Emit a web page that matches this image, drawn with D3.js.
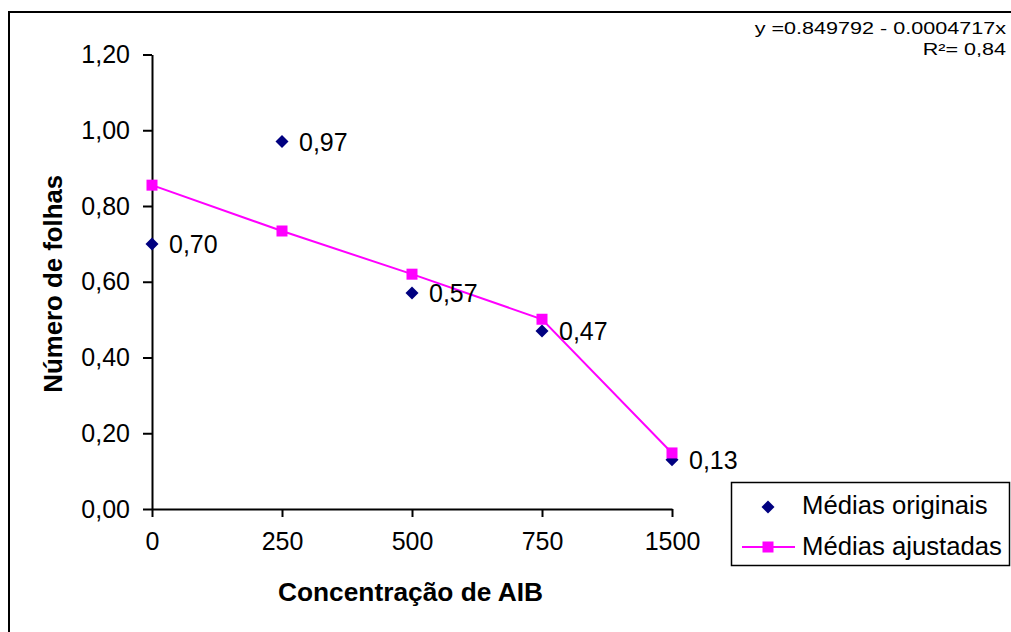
<!DOCTYPE html>
<html>
<head>
<meta charset="utf-8">
<script src="https://cdn.jsdelivr.net/npm/d3@7"></script>
<style>
  html, body { margin: 0; padding: 0; background: #fff; }
  svg { display: block; font-family: "Liberation Sans", Arial, sans-serif; }
</style>
</head>
<body>
<svg id="chart" width="1011" height="632"></svg>
<script>
// ---- data ----
const categories = ["0", "250", "500", "750", "1500"];
const originalMeans = [0.70, 0.97, 0.57, 0.47, 0.13];
const originalLabels = ["0,70", "0,97", "0,57", "0,47", "0,13"];
const adjustedMeans = [0.855, 0.734, 0.620, 0.501, 0.148];
const yTicks = [0, 0.2, 0.4, 0.6, 0.8, 1.0, 1.2];
const seriesNames = ["Médias originais", "Médias ajustadas"];
const equationLines = ["y =0.849792 - 0.0004717x", "R²= 0,84"];
const xTitle = "Concentração de AIB";
const yTitle = "Número de folhas";

// ---- layout ----
const svg = d3.select("#chart");
const NAVY = "#000080", MAGENTA = "#FF00FF";
const plot = { left: 152, right: 672, top: 54.5, bottom: 509 };

const x = d3.scalePoint().domain(categories).range([plot.left, plot.right]).padding(0);
const y = d3.scaleLinear().domain([0, 1.2]).range([plot.bottom, plot.top]);
const fmt = v => d3.format(".2f")(v).replace(".", ",");

// outer chart border (extends past the window on right and bottom)
svg.append("rect")
  .attr("x", 9).attr("y", 12).attr("width", 1100).attr("height", 700)
  .attr("fill", "none").attr("stroke", "#000").attr("stroke-width", 2);

// y axis
const yAxis = svg.append("g").attr("transform", `translate(${plot.left},0)`)
  .call(d3.axisLeft(y).tickValues(yTicks).tickFormat(fmt).tickSizeOuter(0).tickSizeInner(9).tickPadding(13));
// x axis
const xAxis = svg.append("g").attr("transform", `translate(0,${plot.bottom})`)
  .call(d3.axisBottom(x).tickSizeOuter(0).tickSizeInner(8).tickPadding(15));

[yAxis, xAxis].forEach(g => {
  g.select(".domain").attr("stroke", "#000").attr("stroke-width", 2);
  g.selectAll(".tick line").attr("stroke", "#000").attr("stroke-width", 2);
  g.selectAll(".tick text").attr("fill", "#000").style("font-size", "25px")
    .style("font-family", "'Liberation Sans', Arial, sans-serif");
});
xAxis.selectAll(".tick text").attr("dy", "0.71em");

// axis titles
svg.append("text")
  .attr("x", (plot.left + plot.right) / 2 - 1.5).attr("y", 600.5)
  .attr("text-anchor", "middle").style("font-size", "26.3px").style("font-weight", "bold")
  .text(xTitle);
svg.append("text")
  .attr("transform", `translate(62,${(plot.top + plot.bottom) / 2 + 2}) rotate(-90)`)
  .attr("text-anchor", "middle").style("font-size", "25.8px").style("font-weight", "bold")
  .text(yTitle);

// fitted line
const line = d3.line().x((d, i) => x(categories[i])).y(d => y(d));
svg.append("path").datum(adjustedMeans)
  .attr("d", line).attr("fill", "none").attr("stroke", MAGENTA).attr("stroke-width", 2);

// diamond generator
const diamond = r => `M0,${-r}L${r},0L0,${r}L${-r},0Z`;

// original points
svg.selectAll(".orig").data(originalMeans).enter().append("path")
  .attr("class", "orig")
  .attr("transform", (d, i) => `translate(${x(categories[i])},${y(d)})`)
  .attr("d", diamond(6.5)).attr("fill", NAVY);

// adjusted squares
svg.selectAll(".adj").data(adjustedMeans).enter().append("rect")
  .attr("class", "adj")
  .attr("x", (d, i) => x(categories[i]) - 5.5).attr("y", d => y(d) - 5.5)
  .attr("width", 11).attr("height", 11).attr("fill", MAGENTA);

// data labels
svg.selectAll(".lbl").data(originalMeans).enter().append("text")
  .attr("class", "lbl")
  .attr("x", (d, i) => x(categories[i]) + 17).attr("y", d => y(d))
  .attr("dy", "0.36em").style("font-size", "25px")
  .text((d, i) => originalLabels[i]);

// legend
const lg = svg.append("g");
lg.append("rect").attr("x", 731.5).attr("y", 482.5).attr("width", 278).attr("height", 83)
  .attr("fill", "#fff").attr("stroke", "#000").attr("stroke-width", 1.5);
lg.append("path").attr("transform", "translate(768,507)").attr("d", diamond(6.5)).attr("fill", NAVY);
lg.append("line").attr("x1", 742).attr("x2", 795).attr("y1", 547).attr("y2", 547)
  .attr("stroke", MAGENTA).attr("stroke-width", 2);
lg.append("rect").attr("x", 762.5).attr("y", 541.5).attr("width", 11).attr("height", 11).attr("fill", MAGENTA);
lg.selectAll(".lt").data(seriesNames).enter().append("text")
  .attr("x", 802).attr("y", (d, i) => i === 0 ? 514 : 555)
  .style("font-size", "25.7px").text(d => d);

// regression equation (stretched horizontally like the source)
svg.selectAll(".eq").data(equationLines).enter().append("text")
  .attr("transform", (d, i) => `translate(1006,${i === 0 ? 33.5 : 54.5}) scale(1.3,1)`)
  .attr("text-anchor", "end").style("font-size", "16.6px").text(d => d);
</script>
</body>
</html>
